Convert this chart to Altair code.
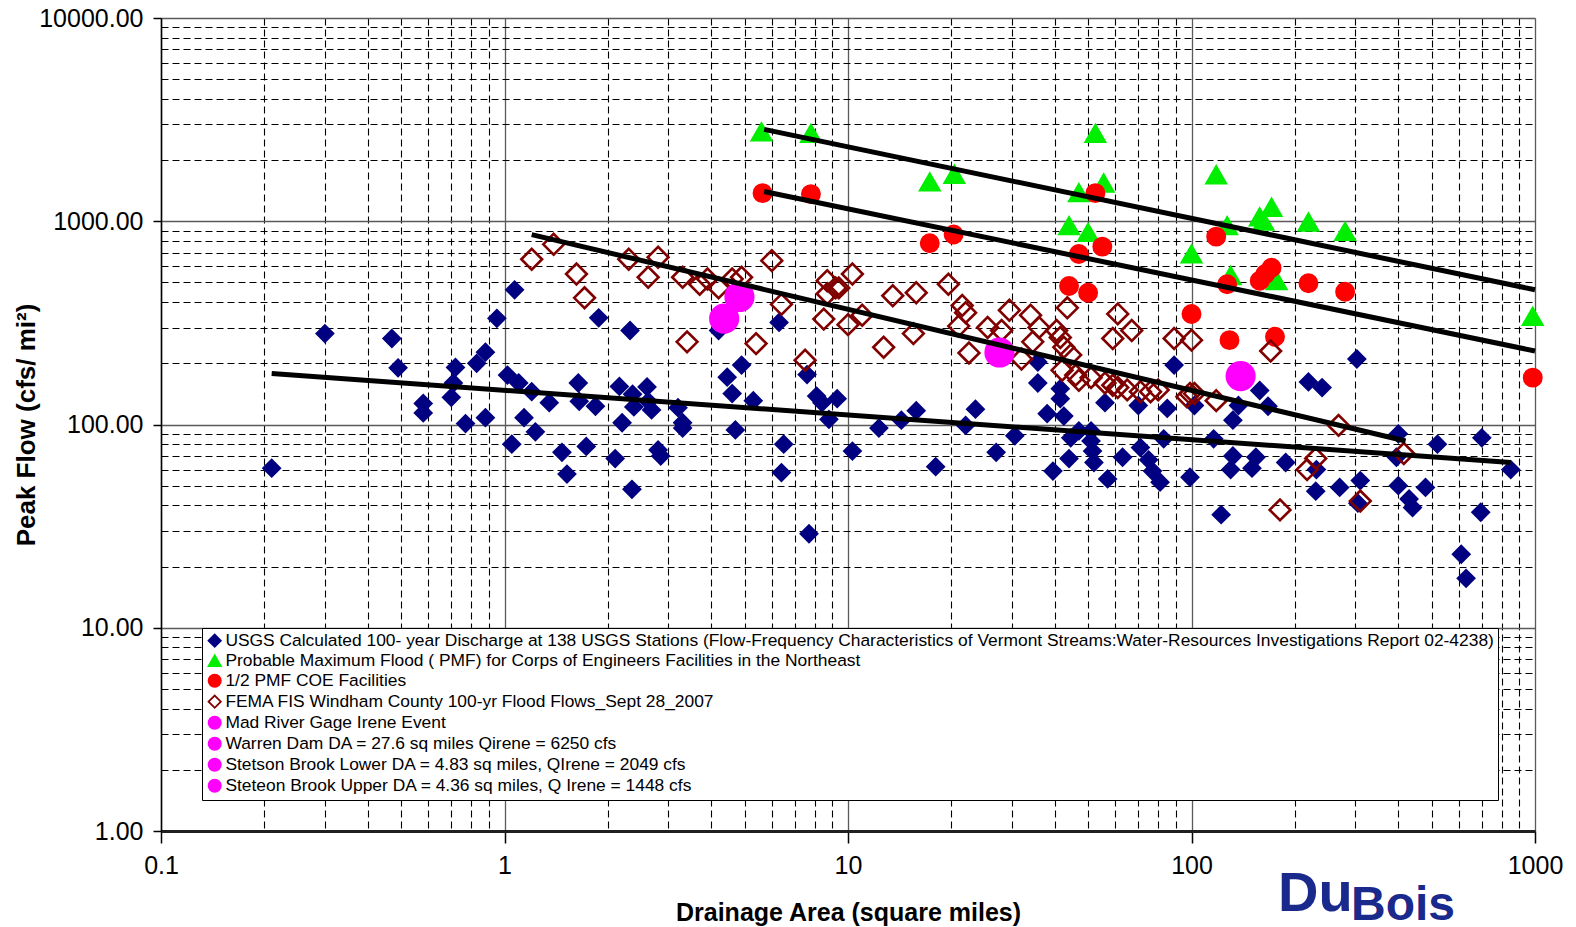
import altair as alt
import pandas as pd

# ---------------- data ----------------
usgs_x = [0.21, 0.30, 0.47, 0.49, 0.58, 0.58, 0.70, 0.72, 0.71, 0.77, 0.83, 0.88, 0.88, 0.95,
          1.07, 1.02, 1.10, 1.05, 1.14, 1.20, 1.23, 1.35, 1.47, 1.52, 1.64, 1.65, 1.73, 1.84,
          1.88, 2.10, 2.16, 2.20, 2.32, 2.35, 2.36, 2.38, 2.60, 2.62, 2.68, 2.80, 2.85, 3.20,
          3.30, 3.30, 4.20, 4.45, 4.60, 4.90, 4.70, 5.30, 6.30, 6.50, 6.40, 7.70, 7.60, 8.10,
          8.40, 9.30, 8.80, 10.3, 12.3, 14.3, 15.8, 18.0, 22.0, 23.5, 27.0, 30.6, 35.7, 35.7,
          38.0, 39.5, 41.5, 41.5, 42.5, 44.0, 44.5, 47.0, 51.0, 51.0, 51.5, 52.0, 56.0, 57.0,
          63.0, 71.0, 70.0, 75.0, 77.0, 81.0, 83.0, 85.0, 89.0, 99.0, 102.0, 116.0, 122.0,
          132.0, 132.0, 130.0, 137.0, 158.0, 167.0, 154.0, 150.0, 188.0, 219.0, 240.0, 231.0,
          230.0, 270.0, 310.0, 303.0, 305.0, 400.0, 395.0, 400.0, 430.0, 440.0, 480.0, 520.0,
          700.0, 695.0, 610.0, 630.0, 850.0]
usgs_y = [61, 280, 265, 190, 127, 114, 136, 191, 160, 101, 200, 227, 108, 333,
          460, 175, 160, 80, 108, 145, 92, 128, 73, 57, 160, 130, 78, 123,
          335, 68, 154, 102, 290, 48, 141, 122, 153, 130, 118, 75, 70, 121,
          102, 96, 290, 171, 142, 196, 94, 131, 318, 80, 58, 29, 176, 138,
          128, 134, 106, 74, 96, 105, 117, 62, 99, 119, 73, 88, 160, 203,
          113, 59, 134, 150, 110, 68, 86, 93, 93, 83, 74, 65, 128, 54,
          69, 77, 124, 67, 59, 52, 85, 120, 196, 55, 124, 85, 36,
          105, 70, 60, 124, 147, 123, 69, 61, 65, 162, 152, 60,
          47, 49, 53, 210, 41, 90, 69, 50, 43, 39, 49, 80,
          86, 37, 23, 17.5, 60]

pmf_x = [5.6, 7.8, 17.3, 20.4, 52.5, 47.0, 55.5, 44.0, 50.0, 118.0, 100.0, 127.0,
         158.0, 171.0, 162.0, 219.0, 280.0, 130.0, 177.0, 985.0]
pmf_y = [2750, 2700, 1560, 1700, 2700, 1380, 1540, 950, 880, 1690, 690, 950,
         1050, 1170, 1000, 990, 890, 540, 510, 340]

half_x = [5.64, 7.8, 17.3, 20.3, 52.5, 47.0, 55.0, 44.0, 50.0, 118.0, 100.0, 127.0,
          158.0, 164.0, 171.0, 219.0, 280.0, 129.0, 175.0, 985.0]
half_y = [1375, 1360, 780, 860, 1375, 690, 750, 480, 445, 840, 350, 490,
          510, 550, 590, 495, 450, 260, 270, 170]

fema_x = [1.2, 1.39, 1.62, 1.71, 2.3, 2.62, 2.8, 3.3, 3.4, 3.7, 3.9, 4.2, 4.6, 4.9, 5.4,
          6.0, 6.4, 7.5, 8.7, 9.2, 8.7, 9.4, 10.3, 8.5, 10.0, 11.0, 12.7, 13.5, 15.8, 15.5,
          19.6, 21.5, 22.0, 21.0, 22.5, 25.5, 28.0, 29.5, 34.0, 36.0, 34.5, 40.5, 41.5,
          42.5, 43.5, 44.5, 32.0, 47.0, 51.0, 56.0, 59.0, 61.0, 61.0, 59.0, 67.0, 65.0,
          71.0, 76.0, 80.0, 89.0, 100.0, 99.0, 97.0, 102.0, 118.0, 170.0, 268.0, 230.0,
          217.0, 181.0, 310.0, 415.0, 42.0, 46.0]
fema_y = [650, 770, 550, 420, 650, 530, 665, 530, 255, 490, 520, 470, 520, 530, 250,
          640, 390, 207, 510, 470, 440, 470, 550, 330, 310, 345, 240, 430, 445, 280,
          490, 385, 355, 305, 225, 300, 290, 365, 345, 300, 255, 290, 268,
          240, 375, 220, 210, 165, 170, 160, 156, 152, 350, 265, 290, 148,
          145, 145, 148, 265, 260, 142, 137, 142, 131, 230, 99, 68,
          60, 38, 42, 72, 185, 175]

irene_names = ["Mad River Gage Irene Event",
               "Warren Dam DA = 27.6 sq miles Qirene = 6250 cfs",
               "Stetson Brook Lower DA = 4.83 sq miles, QIrene = 2049 cfs",
               "Steteon Brook Upper DA = 4.36 sq miles, Q Irene = 1448 cfs"]
irene_x = [139.0, 27.6, 4.83, 4.36]
irene_y = [173, 226, 424, 332]

series_names = [
    "USGS Calculated 100- year Discharge at 138 USGS Stations (Flow-Frequency Characteristics of Vermont Streams:Water-Resources Investigations Report 02-4238)",
    "Probable Maximum Flood ( PMF) for Corps of Engineers Facilities in the Northeast",
    "1/2 PMF COE Facilities",
    "FEMA FIS Windham County 100-yr Flood Flows_Sept 28_2007",
] + irene_names

# trend lines (end points)
line_names = ["USGS", "FEMA", "Half PMF", "PMF"]
line_x0 = [0.21, 1.2, 5.7, 5.7]
line_x1 = [850.0, 420.0, 1000.0, 1000.0]
line_y0 = [178, 860, 1400, 2830]
line_y1 = [65, 83, 230, 460]

x_ticks = [0.1, 0.2, 0.3, 0.4, 0.5, 0.6, 0.7, 0.8, 0.9,
           1, 2, 3, 4, 5, 6, 7, 8, 9,
           10, 20, 30, 40, 50, 60, 70, 80, 90,
           100, 200, 300, 400, 500, 600, 700, 800, 900, 1000]
y_ticks = [1, 2, 3, 4, 5, 6, 7, 8, 9,
           10, 20, 30, 40, 50, 60, 70, 80, 90,
           100, 200, 300, 400, 500, 600, 700, 800, 900,
           1000, 2000, 3000, 4000, 5000, 6000, 7000, 8000, 9000, 10000]

logo_parts = ["Du", "Bois"]

# ---------------- styling ----------------
fills = ["#000080", "#00ee00", "#ff0000", "transparent", "#ff00ff", "#ff00ff", "#ff00ff", "#ff00ff"]
strokes = ["#000080", "#00ee00", "#ff0000", "#800000", "#ff00ff", "#ff00ff", "#ff00ff", "#ff00ff"]
shapes = ["diamond", "triangle-up", "circle", "diamond", "circle", "circle", "circle", "circle"]
sizes = [260, 360, 300, 430, 760, 760, 760, 760]

rows = []
for xs_, ys_, name in [(usgs_x, usgs_y, series_names[0]), (pmf_x, pmf_y, series_names[1]),
                       (half_x, half_y, series_names[2]), (fema_x, fema_y, series_names[3])]:
    for a, b in zip(xs_, ys_):
        rows.append({"x": a, "y": b, "series": name})
for a, b, name in zip(irene_x, irene_y, irene_names):
    rows.append({"x": a, "y": b, "series": name})
pts = pd.DataFrame(rows)
size_map = dict(zip(series_names, sizes))
pts["sz"] = pts["series"].map(size_map)
pts["ord"] = range(len(pts))

lrows = []
for n, a0, a1, b0, b1 in zip(line_names, line_x0, line_x1, line_y0, line_y1):
    lrows.append({"line": n, "x": a0, "y": b0})
    lrows.append({"line": n, "x": a1, "y": b1})
lines_df = pd.DataFrame(lrows)

XMAJ = "indexof([0.1, 1, 10, 100, 1000], datum.value) >= 0"
YMAJ = "indexof([1, 10, 100, 1000, 10000], datum.value) >= 0"

FONT = "Liberation Sans"

def grid_props(test):
    return dict(
        grid=True,
        gridDash={"condition": {"test": test, "value": []}, "value": [7, 4]},
        gridColor={"condition": {"test": test, "value": "#5a5a5a"}, "value": "#000000"},
        gridWidth={"condition": {"test": test, "value": 1.3}, "value": 1.1},
        tickOpacity={"condition": {"test": test, "value": 1}, "value": 0},
    )

x_axis = alt.Axis(
    values=x_ticks, format="~g", labelExpr=f"({XMAJ}) ? datum.label : ''",
    labelOverlap=False, labelFlush=False, labelBound=False,
    tickSize=12, tickColor="black", tickWidth=1.5,
    domainColor="#202020", domainWidth=3,
    labelFont=FONT, labelFontSize=25, labelColor="black", labelPadding=10,
    title="Drainage Area (square miles)", titleFont=FONT, titleFontSize=25,
    titleFontWeight="bold", titleColor="black", titleY=89, titleBaseline="alphabetic",
    **grid_props(XMAJ),
)
y_axis = alt.Axis(
    values=y_ticks, format=".2f", labelExpr=f"({YMAJ}) ? datum.label : ''",
    labelOverlap=False, labelFlush=False, labelBound=False,
    tickSize=8, tickColor="black", tickWidth=1.5,
    domainColor="black", domainWidth=1.5,
    labelFont=FONT, labelFontSize=25, labelColor="black", labelPadding=10,
    title="Peak Flow (cfs/ mi²)", titleFont=FONT, titleFontSize=26,
    titleFontWeight="bold", titleColor="black", titleX=-127, titleBaseline="alphabetic",
    **grid_props(YMAJ),
)

xs = alt.Scale(type="log", domain=[0.1, 1000], nice=False)
ys = alt.Scale(type="log", domain=[1, 10000], nice=False)

legend = alt.Legend(
    title=None, orient="none", legendX=41, legendY=610, direction="vertical",
    fillColor="white", strokeColor="black", padding=4, rowPadding=0,
    labelFont=FONT, labelFontSize=17.4, labelColor="black", labelLimit=2000,
    labelOffset=2, symbolSize=150, symbolStrokeWidth=1.8,
)

points = alt.Chart(pts).mark_point(opacity=1, strokeWidth=2.6).encode(
    x=alt.X("x:Q", scale=xs, axis=x_axis),
    y=alt.Y("y:Q", scale=ys, axis=y_axis),
    fill=alt.Fill("series:N", scale=alt.Scale(domain=series_names, range=fills), legend=legend),
    stroke=alt.Stroke("series:N", scale=alt.Scale(domain=series_names, range=strokes), legend=legend),
    shape=alt.Shape("series:N", scale=alt.Scale(domain=series_names, range=shapes), legend=legend),
    size=alt.Size("sz:Q", scale=None),
    order=alt.Order("ord:Q"),
)

lines = alt.Chart(lines_df).mark_line(color="black", strokeWidth=5).encode(
    x=alt.X("x:Q", scale=xs),
    y=alt.Y("y:Q", scale=ys),
    detail="line:N",
)

LOGO_FONT = "Liberation Sans"
logo_du = alt.Chart(pd.DataFrame({"t": [logo_parts[0]]})).mark_text(
    font=LOGO_FONT, fontSize=56, fontWeight="bold", color="#1a2a8c",
    align="left", baseline="alphabetic",
).encode(text="t:N", x=alt.value(1117), y=alt.value(893))
logo_bois = alt.Chart(pd.DataFrame({"t": [logo_parts[1]]})).mark_text(
    font=LOGO_FONT, fontSize=48, fontWeight="bold", color="#1a2a8c",
    align="left", baseline="alphabetic",
).encode(text="t:N", x=alt.value(1190), y=alt.value(902))

chart = alt.layer(points, lines, logo_du, logo_bois).properties(
    width=1374, height=813,
    padding={"left": 161, "top": 18, "right": 41, "bottom": 96},
    autosize=alt.AutoSizeParams(type="none"),
).configure_view(stroke="#808080", strokeWidth=2).configure(background="white")

chart.save("out.html", embed_options={"renderer": "svg", "actions": False})
